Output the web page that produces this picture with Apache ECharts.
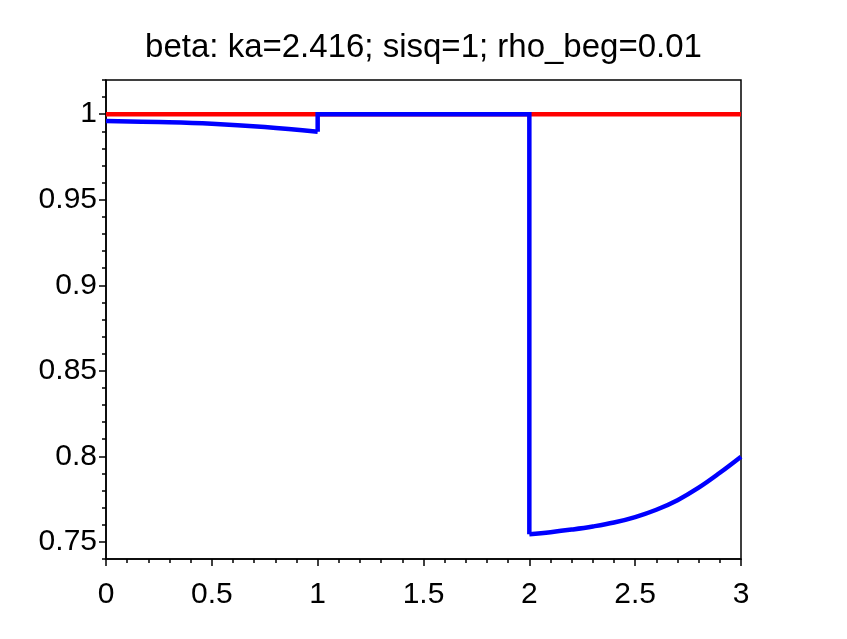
<!DOCTYPE html>
<html>
<head>
<meta charset="utf-8">
<script src="https://cdn.jsdelivr.net/npm/echarts@6/dist/echarts.min.js"></script>
<style>
html,body{margin:0;padding:0;background:#fff;}
#main{width:847px;height:639px;}
</style>
</head>
<body>
<div id="main"></div>
<script>
const titleText = 'beta: ka=2.416; sisq=1; rho_beg=0.01';
const yTickValues = [0.75, 0.8, 0.85, 0.9, 0.95, 1];
const redX = [0, 3];
const redY = [1, 1];
// blue: slowly falling arc on [0,1], jump up at 1, flat to 2, drop at 2, rising curve on [2,3]
const blueArcX = [0, 0.25, 0.5, 0.75, 1];
const blueArcY = [0.9960, 0.9954, 0.9944, 0.9925, 0.9898];
const blueStepX = [1, 1, 2, 2];
const blueStepY = [0.9898, 1, 1, 0.7545];
const blueCurveX = [2, 2.1, 2.2, 2.3, 2.4, 2.5, 2.6, 2.7, 2.8, 2.9, 3];
const blueCurveY = [0.7545, 0.7557, 0.7572, 0.7590, 0.7613, 0.7645, 0.7688, 0.7744, 0.7817, 0.7904, 0.7998];

const pairs = (xs, ys) => xs.map((x, i) => [x, ys[i]]);
const font = '"Liberation Sans", Arial, sans-serif';

const chart = echarts.init(document.getElementById('main'), null, {renderer: 'canvas'});
chart.setOption({
  animation: false,
  backgroundColor: '#fff',
  title: {
    text: titleText,
    left: 'center',
    top: 26,
    textStyle: {fontFamily: font, fontSize: 33, fontWeight: 'normal', color: '#000'}
  },
  grid: {
    left: 106, right: 106, top: 80, bottom: 80,
    show: true, borderColor: '#000', borderWidth: 1.5, backgroundColor: 'transparent'
  },
  xAxis: {
    type: 'value', min: 0, max: 3, interval: 0.5,
    axisLine: {show: true, onZero: false, lineStyle: {color: '#000', width: 1.5}},
    axisTick: {show: true, inside: false, length: 7, lineStyle: {color: '#000', width: 1.5}},
    minorTick: {show: true, splitNumber: 5, length: 4, lineStyle: {color: '#000', width: 1.5}},
    splitLine: {show: false},
    axisLabel: {
      margin: 21, fontFamily: font, fontSize: 30, color: '#000',
      formatter: v => String(+v.toFixed(2))
    }
  },
  yAxis: [
    {
      type: 'value', min: 0.74, max: 1.02, position: 'left',
      axisLine: {show: true, onZero: false, lineStyle: {color: '#000', width: 1.5}},
      axisTick: {show: true, inside: false, length: 7, customValues: yTickValues, lineStyle: {color: '#000', width: 1.5}},
      splitLine: {show: false},
      axisLabel: {
        margin: 9, fontFamily: font, fontSize: 30, color: '#000',
        customValues: yTickValues,
        formatter: v => String(+(+v).toFixed(2))
      }
    },
    {
      type: 'value', min: 0.74, max: 1.02, interval: 0.01, position: 'left', offset: 0,
      axisLine: {show: false},
      axisTick: {show: true, inside: false, length: 4, lineStyle: {color: '#000', width: 1.5}},
      axisLabel: {show: false},
      splitLine: {show: false}
    }
  ],
  series: [
    {
      type: 'line', data: pairs(redX, redY), yAxisIndex: 0,
      symbol: 'none', lineStyle: {color: '#ff0000', width: 4.5}, z: 2
    },
    {
      type: 'line', data: pairs(blueStepX, blueStepY), yAxisIndex: 0,
      symbol: 'none', lineStyle: {color: '#0000ff', width: 4.5, join: 'miter'}, z: 3
    },
    {
      type: 'line', data: pairs(blueArcX, blueArcY), yAxisIndex: 0,
      symbol: 'none', smooth: 0.4,
      lineStyle: {color: '#0000ff', width: 4.5}, z: 3
    },
    {
      type: 'line', data: pairs(blueCurveX, blueCurveY), yAxisIndex: 0,
      symbol: 'none', smooth: 0.4,
      lineStyle: {color: '#0000ff', width: 4.5}, z: 3
    }
  ]
});
</script>
</body>
</html>
